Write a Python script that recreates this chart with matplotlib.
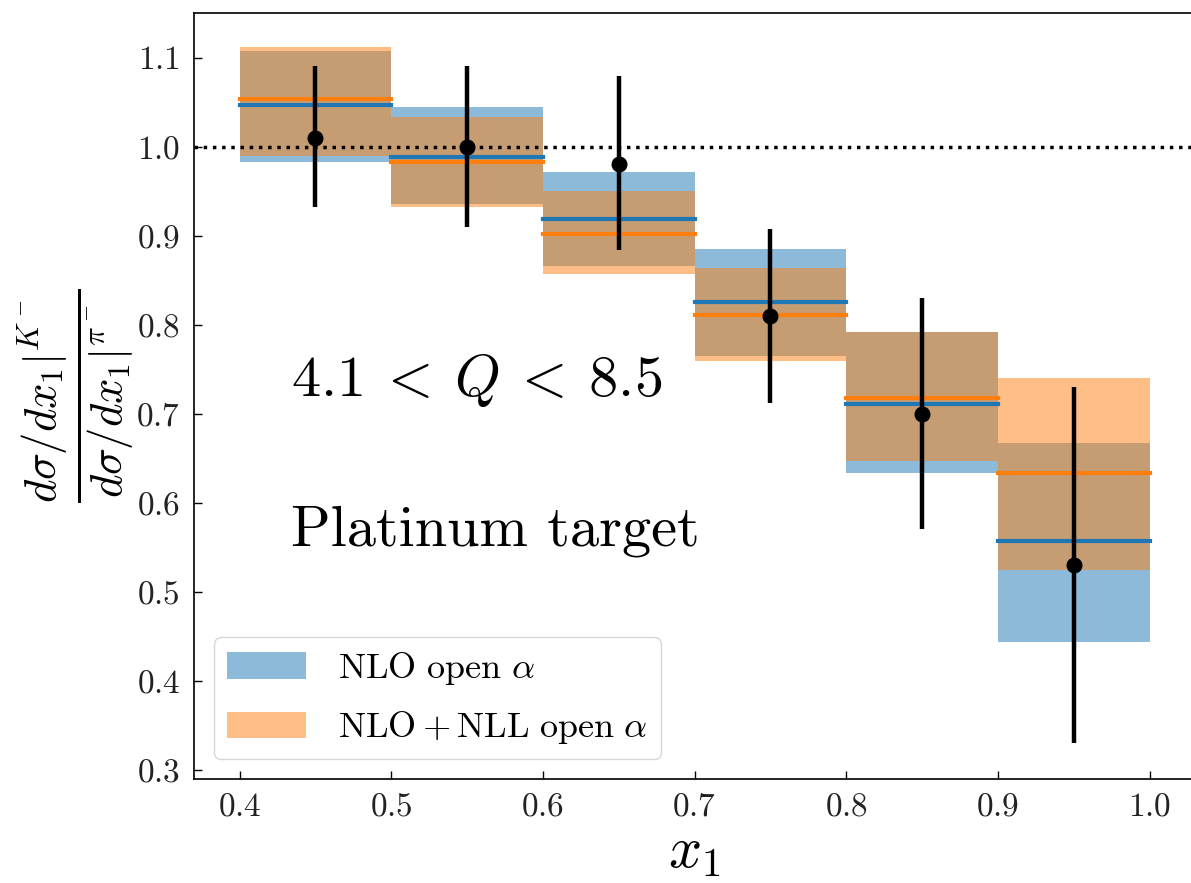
import matplotlib
matplotlib.use("Agg")
import matplotlib.pyplot as plt
from matplotlib.patches import Patch
import numpy as np

plt.rcParams['font.family'] = 'serif'
plt.rcParams['font.serif'] = ['cmr10']
plt.rcParams['mathtext.fontset'] = 'cm'
plt.rcParams['axes.formatter.use_mathtext'] = True

# bin edges in x1
bin_edges = [0.4, 0.5, 0.6, 0.7, 0.8, 0.9, 1.0]
x_centers = [0.45, 0.55, 0.65, 0.75, 0.85, 0.95]

# NLO open alpha (blue)
nlo_central = [1.047, 0.988, 0.919, 0.826, 0.711, 0.557]
nlo_low = [0.983, 0.935, 0.866, 0.765, 0.633, 0.444]
nlo_high = [1.107, 1.045, 0.971, 0.885, 0.792, 0.667]

# NLO + NLL open alpha (orange)
nll_central = [1.053, 0.983, 0.902, 0.811, 0.718, 0.633]
nll_low = [0.990, 0.932, 0.857, 0.759, 0.647, 0.525]
nll_high = [1.112, 1.033, 0.950, 0.864, 0.792, 0.740]

# data
data_y = [1.01, 1.00, 0.98, 0.81, 0.70, 0.53]
data_up = [1.090, 1.090, 1.079, 0.908, 0.830, 0.730]
data_dn = [0.932, 0.910, 0.884, 0.712, 0.571, 0.330]

blue = '#1f77b4'
orange = '#ff7f0e'

fig = plt.figure(figsize=(11.91, 8.83), dpi=100)
ax = fig.add_axes([194/1191, 104/883, 1001/1191, 766/883])

edges = np.array(bin_edges)
ax.fill_between(edges, nlo_low + [nlo_low[-1]], nlo_high + [nlo_high[-1]],
                step='post', color=blue, alpha=0.5, lw=0)
ax.fill_between(edges, nll_low + [nll_low[-1]], nll_high + [nll_high[-1]],
                step='post', color=orange, alpha=0.5, lw=0)

for i in range(len(x_centers)):
    ax.plot([edges[i], edges[i+1]], [nlo_central[i]]*2, color=blue, lw=3,
            solid_capstyle='projecting', zorder=3)
for i in range(len(x_centers)):
    ax.plot([edges[i], edges[i+1]], [nll_central[i]]*2, color=orange, lw=3,
            solid_capstyle='projecting', zorder=3)

yerr = [np.array(data_y) - np.array(data_dn), np.array(data_up) - np.array(data_y)]
ax.errorbar(x_centers, data_y, yerr=yerr, fmt='o', color='black', ms=10.5,
            elinewidth=3.2, capsize=0, zorder=5)

ax.axhline(1.0, color='black', ls=':', lw=2.5, zorder=4)

ax.set_xlim(0.37, 1.03)
ax.set_ylim(0.29, 1.15)
ax.set_xticks([0.4, 0.5, 0.6, 0.7, 0.8, 0.9, 1.0])
ax.set_yticks([0.3, 0.4, 0.5, 0.6, 0.7, 0.8, 0.9, 1.0, 1.1])
ax.tick_params(direction='in', labelsize=24, length=6, width=1, pad=10,
               labelcolor='#222222')
for s in ax.spines.values():
    s.set_linewidth(1.2)

ax.set_xlabel(r'$x_1$', fontsize=42, labelpad=4)
fig.text(76/1191, 1 - 396/883,
         r'$\frac{\left. d\sigma/dx_1\right|^{K^-}}{\left. d\sigma/dx_1\right|^{\pi^-}}$',
         fontsize=46, rotation=90, ha='center', va='center')

ax.text(0.434, 0.72, r'$4.1 \:<\: Q \:<\: 8.5$', fontsize=42, va='baseline', ha='left')
ax.text(0.434, 0.552, 'Platinum target', fontsize=42, va='baseline', ha='left')

handles = [Patch(facecolor=blue, alpha=0.5, lw=0), Patch(facecolor=orange, alpha=0.5, lw=0)]
labels = [r'$\mathrm{NLO\ open}\ \alpha$', r'$\mathrm{NLO} + \mathrm{NLL\ open}\ \alpha$']
ax.legend(handles, labels, loc='lower left', fontsize=26, frameon=True,
          handlelength=2.2, handleheight=0.75, borderpad=0.35, labelspacing=0.62,
          handletextpad=0.9, borderaxespad=0.55)

fig.savefig('out.png', dpi=100)
